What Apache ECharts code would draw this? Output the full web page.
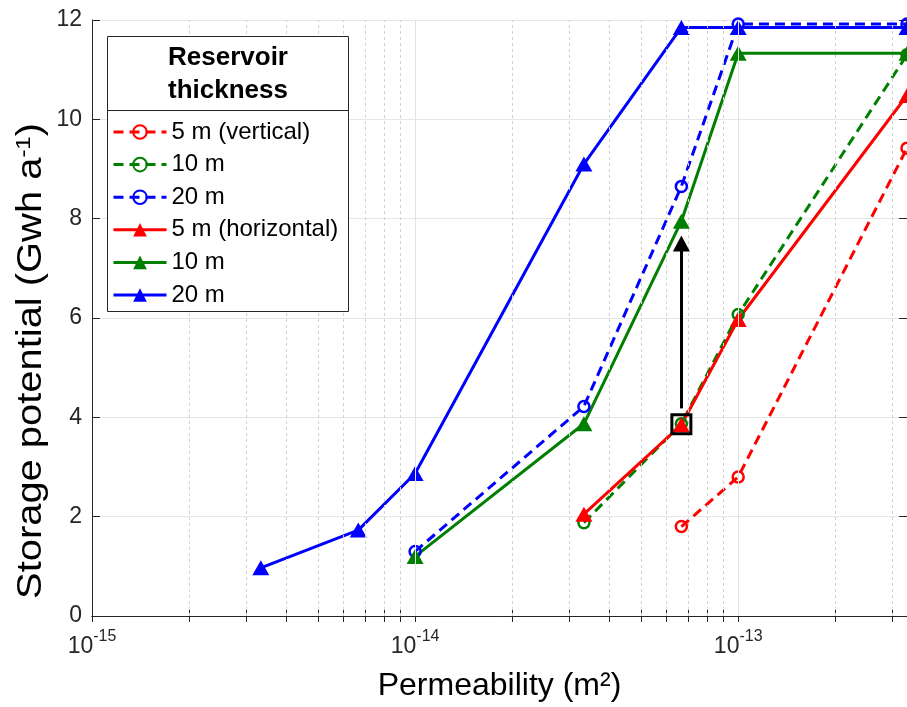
<!DOCTYPE html>
<html>
<head>
<meta charset="utf-8">
<script src="https://cdn.jsdelivr.net/npm/echarts@6/dist/echarts.min.js"></script>
<style>
  html, body { margin: 0; padding: 0; background: #fff; }
  #chart { width: 907px; height: 707px; }
</style>
</head>
<body>
<div id="chart"></div>
<script>
// permeability (m²) and storage potential (Gwh a^-1)
const vert5X = [6.67e-14, 1e-13, 3.33e-13];
const vert5Y = [1.8, 2.8, 9.42];
const vert10X = [3.33e-14, 6.67e-14, 1e-13, 3.33e-13];
const vert10Y = [1.88, 3.87, 6.07, 11.3];
const vert20X = [1e-14, 3.33e-14, 6.67e-14, 1e-13, 3.33e-13];
const vert20Y = [1.3, 4.22, 8.65, 11.92, 11.92];
const hor5X = [3.33e-14, 6.67e-14, 1e-13, 3.33e-13];
const hor5Y = [2.05, 3.85, 5.97, 10.48];
const hor10X = [1e-14, 3.33e-14, 6.67e-14, 1e-13, 3.33e-13];
const hor10Y = [1.2, 3.87, 7.95, 11.33, 11.33];
const hor20X = [3.33e-15, 6.67e-15, 1e-14, 3.33e-14, 6.67e-14, 1e-13, 3.33e-13];
const hor20Y = [0.97, 1.73, 2.87, 9.1, 11.85, 11.85, 11.85];

const majorX = [1e-15, 1e-14, 1e-13];
const yTicks = [0, 2, 4, 6, 8, 10, 12];

const FONT = 'Liberation Sans';
const AXIS = '#262626';
const RED = '#ff0000', GREEN = '#007f00', BLUE = '#0000ff';

// minor positions 2..9 of each decade
const minorX = [];
majorX.forEach(d => { for (let k = 2; k <= 9; k++) minorX.push(+(d * k).toPrecision(3)); });
const allTicks = majorX.concat(minorX);

function pairs(xs, ys) { return xs.map((x, i) => [x, ys[i]]); }

function dashed(name, xs, ys, color) {
  return {
    name: name, type: 'line', data: pairs(xs, ys), z: 3,
    symbol: 'circle', symbolSize: 11,
    lineStyle: { color: color, width: 3, type: [10, 6] },
    itemStyle: { color: 'rgba(255,255,255,0)', borderColor: color, borderWidth: 2.5 }
  };
}
function solid(name, xs, ys, color) {
  return {
    name: name, type: 'line', data: pairs(xs, ys), z: 3,
    symbol: 'triangle', symbolSize: [17, 15],
    lineStyle: { color: color, width: 3 },
    itemStyle: { color: color }
  };
}

function vline(v, style) {
  return [{ coord: [v, 0], lineStyle: style }, { coord: [v, 12] }];
}
const gridLines = majorX.slice(1).map(v => vline(v, { color: '#e3e3e3', type: 'solid', width: 1 }))
  .concat(minorX.filter(v => v < 3.33e-13).map(v => vline(v, { color: '#d2d2d2', type: [3, 3], width: 1 })));

const names = ['5 m (vertical)', '10 m', '20 m', '5 m (horizontal)', '10 m ', '20 m '];

const chart = echarts.init(document.getElementById('chart'));
chart.setOption({
  animation: false,
  backgroundColor: '#fff',
  textStyle: { fontFamily: FONT },
  grid: { left: 92, right: -2.3, top: 20, bottom: 87 },
  xAxis: [{
    type: 'log', logBase: 10, min: 1e-15, max: 3.33e-13, position: 'bottom',
    name: 'Permeability (m²)', nameLocation: 'middle', nameGap: 54,
    nameTextStyle: { fontSize: 32, color: '#000', fontFamily: FONT },
    axisLine: { lineStyle: { color: AXIS, width: 1 } },
    axisTick: { inside: true, length: 6, customValues: allTicks, lineStyle: { color: AXIS } },
    axisLabel: {
      customValues: majorX, margin: 13, color: AXIS,
      formatter: v => '{b|10}{s|' + Math.round(Math.log10(v)) + '}',
      rich: {
        b: { fontSize: 23, fontFamily: FONT, color: AXIS, padding: [6, 0, 0, 0] },
        s: { fontSize: 16, fontFamily: FONT, color: AXIS, verticalAlign: 'top' }
      }
    },
    splitLine: { show: false }
  }, {
    type: 'log', logBase: 10, min: 1e-15, max: 3.33e-13, position: 'top',
    axisLine: { lineStyle: { color: AXIS, width: 1 } },
    axisTick: { inside: true, length: 6, customValues: allTicks, lineStyle: { color: AXIS } },
    axisLabel: { show: false },
    splitLine: { show: false }
  }],
  yAxis: [{
    type: 'value', min: 0, max: 12, interval: 2, position: 'left',
    axisLine: { show: true, lineStyle: { color: AXIS, width: 1 } },
    axisTick: { show: true, inside: true, length: 8, customValues: yTicks, lineStyle: { color: AXIS } },
    axisLabel: { fontSize: 23, color: AXIS, margin: 10, fontFamily: FONT },
    splitLine: { show: true, lineStyle: { color: '#e6e6e6', width: 1 } }
  }, {
    type: 'value', min: 0, max: 12, interval: 2, position: 'right',
    axisLine: { show: true, lineStyle: { color: AXIS, width: 1 } },
    axisTick: { show: true, inside: true, length: 8, lineStyle: { color: AXIS } },
    axisLabel: { show: false },
    splitLine: { show: false }
  }],
  legend: {
    data: names, orient: 'vertical', left: 112, top: 119, z: 200,
    itemWidth: 53, itemHeight: 17, itemGap: 6.6, padding: 0,
    selectedMode: false,
    lineStyle: { width: 3 },
    textStyle: { fontSize: 24, lineHeight: 26, color: '#000', fontFamily: FONT }
  },
  graphic: [
    // y axis title (the figure's y label is stretched along its length)
    { type: 'text', z: 50, x: 31, y: 361, rotation: Math.PI / 2, scaleX: 1.14,
      style: { text: 'Storage potential (Gwh a{sup|-1})', font: '35px ' + FONT, fill: '#000',
        align: 'center', verticalAlign: 'middle',
        rich: { sup: { fontSize: 21, fontFamily: FONT, fill: '#000', verticalAlign: 'top' } } } },
    { type: 'rect', z: 100, shape: { x: 107.5, y: 36.5, width: 241, height: 275 },
      style: { fill: '#fff', stroke: AXIS, lineWidth: 1 } },
    { type: 'line', z: 150, shape: { x1: 107.5, y1: 110.5, x2: 348.5, y2: 110.5 },
      style: { stroke: AXIS, lineWidth: 1 } },
    { type: 'text', z: 150, x: 228, y: 74,
      style: { text: 'Reservoir\nthickness', font: 'bold 26px ' + FONT, fill: '#000',
        align: 'center', verticalAlign: 'middle', lineHeight: 33 } }
  ],
  series: [
    {
      type: 'line', data: [], z: 1, silent: true,
      markLine: { silent: true, symbol: ['none', 'none'], label: { show: false },
        emphasis: { disabled: true }, data: gridLines }
    },
    dashed(names[0], vert5X, vert5Y, RED),
    dashed(names[1], vert10X, vert10Y, GREEN),
    dashed(names[2], vert20X, vert20Y, BLUE),
    solid(names[3], hor5X, hor5Y, RED),
    solid(names[4], hor10X, hor10Y, GREEN),
    solid(names[5], hor20X, hor20Y, BLUE),
    {
      type: 'line', data: [], z: 5, silent: true,
      markLine: {
        silent: true, symbol: ['none', 'triangle'], symbolSize: [17, 16],
        label: { show: false }, emphasis: { disabled: true },
        lineStyle: { color: '#000', width: 3, type: 'solid' },
        data: [[{ coord: [6.67e-14, 4.18] }, { coord: [6.67e-14, 7.5] }]]
      },
      markPoint: {
        silent: true, symbol: 'rect', symbolSize: 19, label: { show: false },
        itemStyle: { color: 'rgba(0,0,0,0)', borderColor: '#000', borderWidth: 3 },
        data: [{ coord: [6.67e-14, 3.86] }]
      }
    }
  ]
});
</script>
</body>
</html>
